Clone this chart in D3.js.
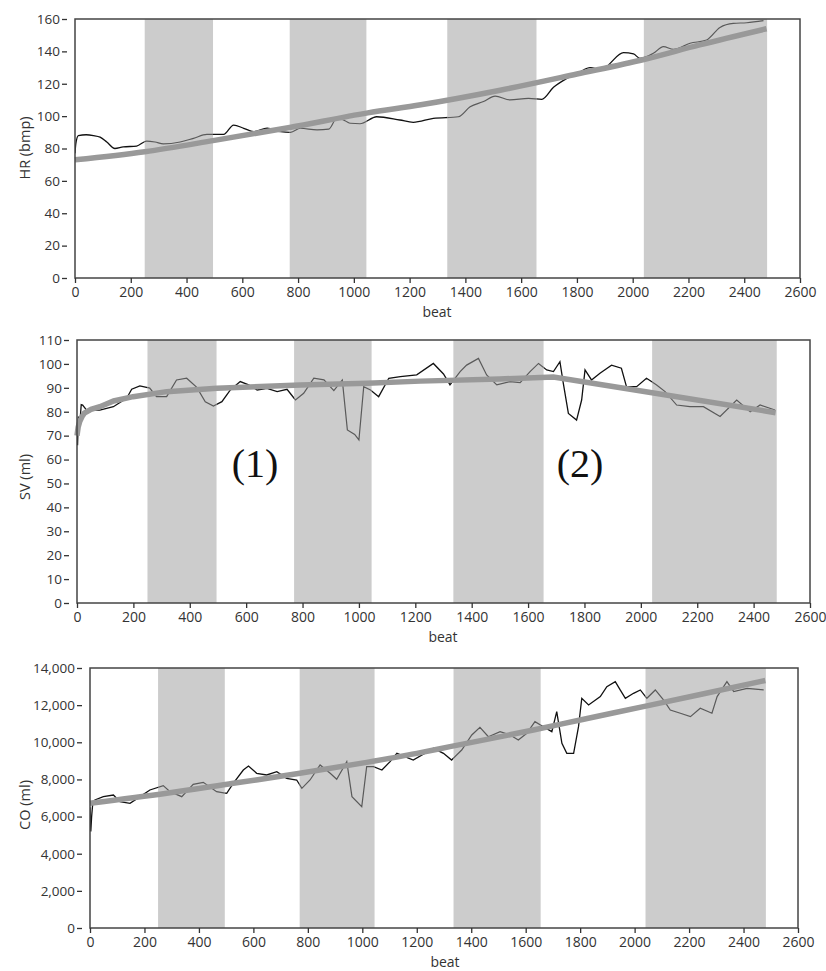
<!DOCTYPE html>
<html>
<head>
<meta charset="utf-8">
<script src="https://cdn.jsdelivr.net/npm/d3@7"></script>
<style>
  body { margin: 0; background: #fff; }
  svg text { font-family: "Open Sans", "DejaVu Sans", sans-serif; }
</style>
</head>
<body>
<svg width="826" height="971"></svg>
<script>
// Data
// ---------------------------
var xTicks = [0, 200, 400, 600, 800, 1000, 1200, 1400, 1600, 1800, 2000, 2200, 2400, 2600];

// shaded bands (beat from / to)
var bands = [[250, 495], [770, 1045], [1335, 1655], [2040, 2482]];

// HR (bmp): raw trace and fitted trend, [beat, value]
var hrRaw = [[0, 77], [3, 83], [12, 88], [40, 88.5], [66, 88], [90, 87], [114, 84], [143, 80], [173, 81],
  [221, 81.5], [257, 84.6], [287, 84], [317, 82.8], [377, 84], [425, 86.3], [473, 88.7], [533, 88.7],
  [569, 94.5], [605, 92.5], [641, 90.4], [689, 92.5], [737, 90.4], [773, 90], [808, 92.5], [868, 91.5],
  [910, 92], [940, 99], [970, 97], [988, 95.6], [1022, 95.3], [1082, 99.6], [1165, 97.6], [1213, 96.2],
  [1285, 98.6], [1375, 99.6], [1417, 105.8], [1465, 109], [1507, 112.4], [1560, 110], [1626, 111],
  [1674, 110.4], [1716, 117.8], [1764, 123.3], [1811, 127.4], [1847, 129.9], [1895, 128.5], [1919, 132.6],
  [1967, 139.2], [2003, 138.4], [2026, 135.7], [2074, 138.8], [2110, 142.9], [2146, 141.2], [2206, 145],
  [2265, 147], [2313, 154.8], [2361, 157.3], [2409, 157.7], [2469, 159]];
var hrTrend = [[0, 73], [250, 78], [500, 85], [770, 93], [1050, 102], [1240, 107], [1525, 116],
  [1800, 126], [2040, 135], [2240, 144], [2480, 154]];

// SV (ml)
var svRaw = [[0, 72], [2, 66], [5, 78], [10, 75], [15, 83], [20, 82.8], [34, 80.7], [81, 80.7], [129, 82.1],
  [176, 85.6], [194, 89.4], [223, 90.8], [258, 89.9], [282, 86.3], [318, 86.3], [353, 93.3], [389, 94],
  [425, 90.2], [455, 84.2], [484, 82.4], [514, 84.2], [544, 89.1], [579, 92.6], [609, 91.2], [639, 89.1],
  [674, 89.8], [710, 88.4], [745, 89.4], [775, 84.9], [804, 87.7], [840, 94], [876, 93.3], [911, 88.8],
  [941, 93.3], [959, 72.4], [985, 70.5], [1000, 68.2], [1017, 90.5], [1041, 89.1], [1070, 86.3],
  [1106, 94], [1147, 94.7], [1205, 95.4], [1264, 100.2], [1300, 95.8], [1323, 91.2], [1359, 96.8],
  [1382, 99.5], [1424, 102.3], [1453, 95.4], [1489, 91.2], [1536, 92.6], [1572, 92.2], [1607, 96.8],
  [1637, 100.2], [1666, 97.5], [1690, 96.8], [1713, 100.9], [1725, 91.9], [1743, 79.3], [1772, 76.5],
  [1790, 84.9], [1802, 97.5], [1825, 93.3], [1855, 96.1], [1896, 99.5], [1931, 98.2], [1949, 90.5],
  [1985, 90.5], [2020, 94], [2056, 91.2], [2086, 88.4], [2127, 82.8], [2174, 82.1], [2222, 82.1],
  [2281, 78], [2340, 84.9], [2388, 80], [2423, 82.8], [2476, 80.7]];
var svTrend = [[0, 70], [4, 73.5], [10, 76], [18, 78], [26, 79.4], [50, 81], [81, 82.1], [130, 84.5],
  [199, 86.3], [318, 88.4], [496, 89.8], [792, 91.2], [1029, 91.9], [1218, 92.8], [1500, 93.7],
  [1690, 94.5], [2040, 87.9], [2478, 79.6]];

// CO (ml)
var coRaw = [[0, 6500], [3, 5200], [6, 6000], [10, 6700], [18, 6893], [49, 7072], [86, 7162], [110, 6803],
  [147, 6714], [184, 7072], [220, 7431], [269, 7664], [294, 7341], [337, 7072], [379, 7737], [416, 7844],
  [465, 7341], [502, 7251], [526, 7790], [563, 8508], [582, 8723], [612, 8329], [649, 8240], [686, 8418],
  [722, 8060], [759, 7970], [778, 7522], [808, 7970], [845, 8777], [882, 8329], [906, 8006], [943, 8956],
  [962, 7072], [998, 6534], [1016, 8687], [1041, 8687], [1072, 8508], [1102, 8956], [1127, 9405],
  [1187, 9046], [1261, 9674], [1298, 9405], [1328, 9046], [1365, 9584], [1402, 10392], [1432, 10805],
  [1463, 10300], [1506, 10571], [1543, 10392], [1573, 10123], [1604, 10482], [1634, 11110], [1665, 10840],
  [1696, 10571], [1714, 11648], [1733, 9944], [1751, 9405], [1776, 9405], [1794, 10840], [1806, 12369],
  [1831, 12010], [1874, 12459], [1898, 12997], [1929, 13266], [1947, 12818], [1966, 12369], [1996, 12638],
  [2021, 12818], [2045, 12369], [2076, 12818], [2106, 12279], [2131, 11740], [2168, 11561], [2205, 11381],
  [2241, 11830], [2284, 11561], [2303, 12459], [2339, 13266], [2364, 12728], [2413, 12907], [2474, 12818]];
var coTrend = [[0, 6714], [282, 7251], [526, 7790], [771, 8329], [1016, 8920], [1200, 9405], [1322, 9764],
  [1628, 10661], [1800, 11200], [2045, 11960], [2241, 12574], [2480, 13330]];

// Panels
// ---------------------------
var svg = d3.select("svg");

var panels = [
  { raw: hrRaw, trend: hrTrend, yMax: 160, yTicks: d3.range(0, 161, 20), label: "HR (bmp)",
    left: 75, right: 800, top: 19, bottom: 278, beatX: 437, labelY: 148,
    fmt: d3.format("d"), rawCurve: d3.curveMonotoneX, trendCurve: d3.curveMonotoneX },
  { raw: svRaw, trend: svTrend, yMax: 110, yTicks: d3.range(0, 111, 10), label: "SV (ml)",
    left: 77, right: 810, top: 340, bottom: 603, beatX: 443, labelY: 477,
    fmt: d3.format("d"), rawCurve: d3.curveLinear, trendCurve: d3.curveLinear },
  { raw: coRaw, trend: coTrend, yMax: 14000, yTicks: d3.range(0, 14001, 2000), label: "CO (ml)",
    left: 90, right: 798, top: 668, bottom: 928, beatX: 445, labelY: 805,
    fmt: d3.format(","), rawCurve: d3.curveLinear, trendCurve: d3.curveMonotoneX }
];

panels.forEach(function(p, i) {
  var x = d3.scaleLinear().domain([0, 2600]).range([p.left, p.right]);
  var y = d3.scaleLinear().domain([0, p.yMax]).range([p.bottom, p.top]);
  var g = svg.append("g");

  // bands
  g.selectAll("rect.band")
    .data(bands)
    .enter()
    .append("rect")
    .attr("x", d => x(d[0]))
    .attr("width", d => x(d[1]) - x(d[0]))
    .attr("y", p.top)
    .attr("height", p.bottom - p.top)
    .attr("fill", "#cccccc");

  // clip paths: inside bands vs outside
  var clipIn = "clipIn" + i, clipOut = "clipOut" + i;
  var defs = g.append("defs");
  defs.append("clipPath").attr("id", clipIn)
    .selectAll("rect").data(bands).enter().append("rect")
    .attr("x", d => x(d[0])).attr("width", d => x(d[1]) - x(d[0]))
    .attr("y", p.top - 5).attr("height", p.bottom - p.top + 10);
  var outs = [[0, bands[0][0]]];
  for (var k = 0; k < bands.length - 1; k++) outs.push([bands[k][1], bands[k + 1][0]]);
  outs.push([bands[bands.length - 1][1], 2600]);
  defs.append("clipPath").attr("id", clipOut)
    .selectAll("rect").data(outs).enter().append("rect")
    .attr("x", d => x(d[0])).attr("width", d => x(d[1]) - x(d[0]))
    .attr("y", p.top - 5).attr("height", p.bottom - p.top + 10);

  var rawLine = d3.line().x(d => x(d[0])).y(d => y(d[1])).curve(p.rawCurve);
  var trendLine = d3.line().x(d => x(d[0])).y(d => y(d[1])).curve(p.trendCurve);

  // raw trace, darker outside the bands
  g.append("path").datum(p.raw).attr("d", rawLine)
    .attr("fill", "none").attr("stroke", "#111").attr("stroke-width", 1.3)
    .attr("clip-path", "url(#" + clipOut + ")");
  g.append("path").datum(p.raw).attr("d", rawLine)
    .attr("fill", "none").attr("stroke", "#5a5a5a").attr("stroke-width", 1.2)
    .attr("clip-path", "url(#" + clipIn + ")");

  // trend
  g.append("path").datum(p.trend).attr("d", trendLine)
    .attr("fill", "none").attr("stroke", "#999999").attr("stroke-width", 5.5);

  // frame
  g.append("rect")
    .attr("x", p.left).attr("y", p.top)
    .attr("width", p.right - p.left).attr("height", p.bottom - p.top)
    .attr("fill", "none").attr("stroke", "#444").attr("stroke-width", 1.5);

  // y axis (ticks sit a little off the frame)
  var yAxis = g.append("g")
    .attr("transform", `translate(${p.left - 8},0)`)
    .call(d3.axisLeft(y).tickValues(p.yTicks).tickSize(5).tickPadding(2).tickFormat(p.fmt));
  yAxis.select(".domain").remove();
  yAxis.selectAll("line").attr("stroke", "#333").attr("stroke-width", 1.3);
  yAxis.selectAll("text").attr("font-size", 13.5).attr("fill", "#333")
    .style("font-family", '"Open Sans", sans-serif');

  // x axis
  var xAxis = g.append("g")
    .attr("transform", `translate(0,${p.bottom})`)
    .call(d3.axisBottom(x).tickValues(xTicks).tickSize(5).tickPadding(4).tickFormat(d3.format("d")));
  xAxis.select(".domain").remove();
  xAxis.selectAll("line").attr("stroke", "#333").attr("stroke-width", 1.3);
  xAxis.selectAll("text").attr("font-size", 14).attr("fill", "#333")
    .style("font-family", '"Open Sans", sans-serif');

  g.append("text")
    .attr("x", p.beatX).attr("y", p.bottom + 39)
    .attr("text-anchor", "middle").attr("font-size", 14).attr("fill", "#333")
    .text("beat");

  g.append("text")
    .attr("transform", `translate(30,${p.labelY}) rotate(-90)`)
    .attr("text-anchor", "middle").attr("font-size", 14.5).attr("fill", "#333")
    .text(p.label);
});

// annotations on the SV panel
svg.append("text").attr("x", 255).attr("y", 477).attr("text-anchor", "middle")
  .style("font-family", '"Liberation Serif", "Times New Roman", serif')
  .attr("font-size", 40).attr("fill", "#111").text("(1)");
svg.append("text").attr("x", 580).attr("y", 477).attr("text-anchor", "middle")
  .style("font-family", '"Liberation Serif", "Times New Roman", serif')
  .attr("font-size", 40).attr("fill", "#111").text("(2)");
</script>
</body>
</html>
